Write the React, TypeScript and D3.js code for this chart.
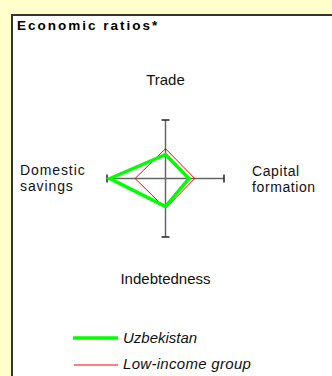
import React from "react";
import * as d3 from "d3";

const axes = ["Trade", "Capital formation", "Indebtedness", "Domestic savings"];
const uzbekistan = [0.41, 0.4, 0.48, 0.95];
const lowIncome = [0.51, 0.5, 0.51, 0.52];
const seriesNames = ["Uzbekistan", "Low-income group"];

const W = 332;
const H = 376;
const cx = 165.5;
const cy = 178.5;
const R = 58.5;

export default function App() {
  const r = d3.scaleLinear().domain([0, 1]).range([0, R]);
  const angle = (i: number) => (i * Math.PI) / 2;
  const line = d3
    .lineRadial<number>()
    .angle((_, i) => angle(i))
    .radius((d) => r(d))
    .curve(d3.curveLinearClosed);

  const font = "'Liberation Sans', Arial, sans-serif";

  return (
    <svg
      width={W}
      height={H}
      style={{ position: "fixed", left: 0, top: 0 }}
      fontFamily={font}
    >
      <rect x={0} y={0} width={W} height={H} fill="#FFFFCC" />
      <rect x={12} y={15} width={W + 10} height={H + 10} fill="#fff" stroke="#333" strokeWidth={2} />
      <text x={17} y={30} fontSize={13.5} fontWeight="bold" letterSpacing={2} fill="#000">
        Economic ratios*
      </text>

      <g transform={`translate(${cx},${cy})`}>
        {axes.map((a, i) => {
          const x = Math.sin(angle(i)) * r(1);
          const y = -Math.cos(angle(i)) * r(1);
          const horiz = i % 2 === 1;
          return (
            <g key={a}>
              <line x1={0} y1={0} x2={x} y2={y} stroke="#666" strokeWidth={1.5} />
              {horiz ? (
                <line x1={x} x2={x} y1={-4} y2={4} stroke="#222" strokeWidth={1.5} />
              ) : (
                <line x1={-4} x2={4} y1={y} y2={y} stroke="#222" strokeWidth={1.5} />
              )}
            </g>
          );
        })}
        <path d={line(lowIncome) || ""} fill="none" stroke="#FF0000" strokeWidth={1} />
        <path d={line(uzbekistan) || ""} fill="none" stroke="#00FF00" strokeWidth={3.5} strokeLinejoin="miter" />
      </g>

      <g fill="#111">
        <text x={cx} y={85} textAnchor="middle" fontSize={15}>{axes[0]}</text>
        <text x={252} y={176} fontSize={14} letterSpacing={0.6}>
          <tspan x={252}>Capital</tspan>
          <tspan x={252} dy={16}>formation</tspan>
        </text>
        <text x={cx} y={284} textAnchor="middle" fontSize={15}>{axes[2]}</text>
        <text x={20} y={175} fontSize={14} letterSpacing={0.9}>
          <tspan x={20}>Domestic</tspan>
          <tspan x={20} dy={16}>savings</tspan>
        </text>
      </g>

      <g fontSize={15} fontStyle="italic" fill="#111">
        <line x1={73} x2={118} y1={338} y2={338} stroke="#00FF00" strokeWidth={3.5} />
        <text x={123} y={343}>{seriesNames[0]}</text>
        <line x1={74} x2={118} y1={365} y2={365} stroke="#FF0000" strokeWidth={1} />
        <text x={123} y={369} letterSpacing={0.3}>{seriesNames[1]}</text>
      </g>
    </svg>
  );
}
